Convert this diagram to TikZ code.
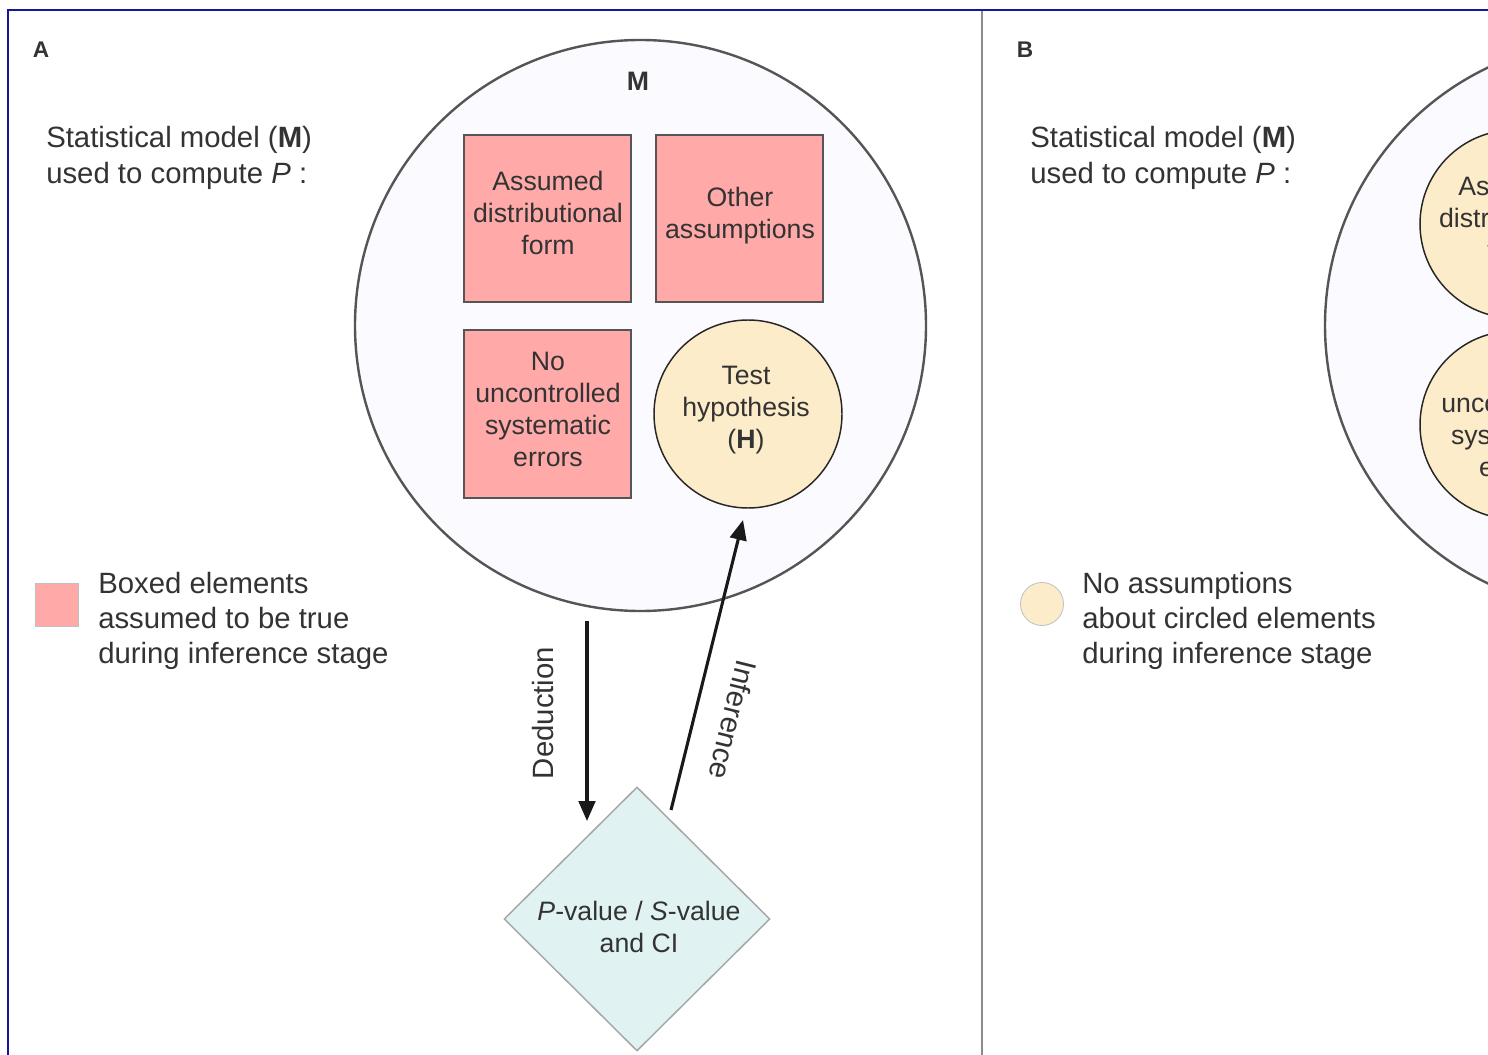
\documentclass[tikz,border=0pt]{standalone}
\usepackage{fontspec}
\setmainfont{Liberation Sans}
\usetikzlibrary{shapes.geometric,arrows.meta}
\definecolor{pinkfill}{HTML}{FFA9A9}
\definecolor{tanfill}{HTML}{FDECC9}
\definecolor{cyanfill}{HTML}{E0F2F2}
\definecolor{bigfill}{HTML}{FBFBFF}
\definecolor{txt}{HTML}{333333}
\definecolor{frameblue}{HTML}{16169A}
\definecolor{edgegray}{HTML}{555555}
\tikzset{
  boxtext/.style={text=txt, font=\fontsize{20}{24}\selectfont, align=center, inner sep=0},
  bodytext/.style={text=txt, font=\fontsize{22}{27}\selectfont, align=left, inner sep=0},
  legtext/.style={text=txt, font=\fontsize{22}{26.25}\selectfont, align=left, inner sep=0},
  panellabel/.style={text=txt, font=\fontsize{17}{19}\selectfont\bfseries, inner sep=0},
  assumbox/.style={draw=edgegray, line width=1.5pt, fill=pinkfill, minimum size=125.25pt, inner sep=0},
  hypcirc/.style={circle, draw=black!85, line width=1.1pt, fill=tanfill, minimum size=141pt, inner sep=0},
  modelcirc/.style={circle, draw=edgegray, line width=1.8pt, fill=bigfill, minimum size=428.25pt, inner sep=0},
  resultdia/.style={diamond, draw=black!35, line width=1.1pt, fill=cyanfill, minimum width=199.5pt, minimum height=198pt, inner sep=0},
  flowarrow/.style={draw=black!90, line width=2.3pt, -{Triangle[length=15pt,width=12.5pt]}},
  legbox/.style={draw=black!25, line width=0.6pt, fill=pinkfill, minimum size=32.25pt, inner sep=0},
  legcirc/.style={circle, draw=black!25, line width=0.6pt, fill=tanfill, minimum size=32.25pt, inner sep=0},
}
\begin{document}
\begin{tikzpicture}[x=0.75pt, y=-0.75pt]
\useasboundingbox (0,0) rectangle (1488,1055);
\clip (0,0) rectangle (1488,1055);
\fill[white] (0,0) rectangle (1488,1055);

% frame and divider
\draw[frameblue, line width=1.5pt] (8,1070) -- (8,10) -- (1500,10);
\draw[black!45, line width=1.5pt] (982,11) -- (982,1070);

% ---------- Panel A ----------
\node[panellabel] (labA) at (41,50) {A};
\node[bodytext, anchor=west] (smA) at (46,158) {Statistical model (\textbf{M})\\used to compute \textit{P} :};

\node[modelcirc] (MA) at (640.5,325.5) {};
\node[text=txt, font=\fontsize{20}{24}\selectfont\bfseries, inner sep=0] (MlabA) at (638,81) {M};

\node[assumbox] (b1) at (547.5,219) {};
\node[assumbox] (b2) at (739.5,219) {};
\node[assumbox] (b3) at (547.5,414) {};
\node[hypcirc] (H) at (748,414) {};

\node[boxtext] (t1) at (548,213) {Assumed\\distributional\\form};
\node[boxtext] (t2) at (740,216) {Other\\assumptions};
\node[boxtext] (t3) at (548,409) {No\\uncontrolled\\systematic\\errors};
\node[boxtext] (tH) at (746,410) {Test\\hypothesis\\(\textbf{H})};

\node[resultdia] (R) at (637,919) {};
\node[boxtext] (tR) at (639,927) {\textit{P}-value / \textit{S}-value\\and CI};

\coordinate (d1) at (587,621);
\coordinate (d2) at (587,821);
\coordinate (i1) at (671,810);
\coordinate (i2) at (743,520);
\draw[flowarrow] (d1) -- (d2);
\draw[flowarrow] (i1) -- (i2);
\node[bodytext, rotate=90] (ded) at (543,713) {Deduction};
\node[bodytext, rotate=-104] (inf) at (733,720) {Inference};

\node[legbox] (lgA) at (56.5,605) {};
\node[legtext, anchor=west] (lgtA) at (98,621) {Boxed elements\\assumed to be true\\during inference stage};

% ---------- Panel B ----------
\node[panellabel] (labB) at (1025,50) {B};
\node[bodytext, anchor=west] (smB) at (1030,158) {Statistical model (\textbf{M})\\used to compute \textit{P} :};

\node[modelcirc] (MB) at (1610.5,325.5) {};
\node[hypcirc] (c1) at (1514,224) {};
\node[hypcirc] (c2) at (1514,425) {};
\node[boxtext] (tc1) at (1514,218) {Assumed\\distributional\\form};
\node[boxtext] (tc2) at (1514,419) {No\\uncontrolled\\systematic\\errors};

\node[legcirc] (lgB) at (1042,604) {};
\node[legtext, anchor=west] (lgtB) at (1082,621) {No assumptions\\about circled elements\\during inference stage};
\end{tikzpicture}
\end{document}
